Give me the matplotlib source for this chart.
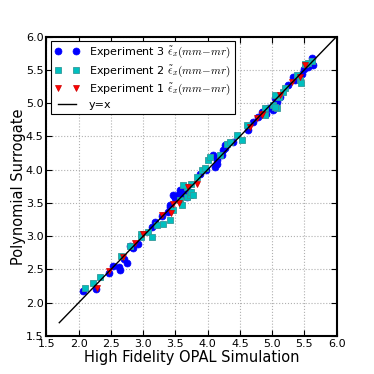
import matplotlib
matplotlib.use("Agg")
import matplotlib.pyplot as plt

# ── datos ─────────────────────────────────────────────────────────────────────
exp3_x = [2.07, 2.27, 2.47, 2.53, 2.64, 2.62, 2.75, 2.70, 2.85, 2.80, 2.92, 3.13, 3.18, 3.30,
          3.39, 3.42, 3.47, 3.50, 3.55, 3.57, 3.62, 3.65, 3.72, 3.42, 3.49, 3.57, 3.68, 3.62,
          3.88, 3.97, 4.11, 4.15, 4.14, 4.22, 4.27, 4.09, 4.14, 4.24, 4.27, 4.40, 4.63, 4.71,
          4.78, 4.86, 4.94, 5.02, 5.05, 4.84, 4.91, 5.07, 5.12, 5.25, 5.33, 5.35, 5.46, 5.49,
          5.56, 5.62, 5.64, 5.62]
exp3_y = [2.17, 2.20, 2.45, 2.55, 2.49, 2.53, 2.60, 2.66, 2.82, 2.85, 2.89, 3.14, 3.22, 3.30,
          3.37, 3.47, 3.62, 3.57, 3.64, 3.62, 3.69, 3.74, 3.66, 3.44, 3.59, 3.69, 3.59, 3.64,
          3.94, 3.99, 4.04, 4.09, 4.17, 4.22, 4.32, 4.22, 4.14, 4.29, 4.37, 4.42, 4.59, 4.72,
          4.79, 4.86, 4.92, 4.89, 5.07, 4.87, 4.84, 5.02, 5.09, 5.27, 5.39, 5.35, 5.44, 5.52,
          5.54, 5.59, 5.57, 5.68]

exp2_x = [2.10, 2.22, 2.33, 2.65, 2.80, 2.96, 2.96, 3.08, 3.13, 3.21, 3.42, 3.31, 3.47, 3.57,
          3.60, 3.68, 3.73, 3.68, 3.75, 3.62, 3.75, 3.78, 3.83, 3.91, 3.96, 4.01, 4.04, 4.30,
          4.35, 4.45, 4.19, 4.53, 4.61, 4.89, 5.02, 5.07, 5.10, 4.89, 5.05, 5.05, 5.20, 5.17,
          5.38, 5.43, 5.51, 5.62, 5.45, 5.55]
exp2_y = [2.22, 2.29, 2.39, 2.70, 2.85, 3.04, 2.99, 3.07, 2.99, 3.17, 3.25, 3.19, 3.39, 3.54,
          3.47, 3.59, 3.62, 3.74, 3.79, 3.77, 3.67, 3.62, 3.89, 3.99, 4.02, 4.14, 4.19, 4.39,
          4.42, 4.52, 4.22, 4.44, 4.67, 4.82, 4.97, 4.92, 5.09, 4.92, 5.12, 4.94, 5.22, 5.17,
          5.42, 5.34, 5.59, 5.64, 5.30, 5.60]

exp1_x = [2.28, 2.47, 2.69, 2.87, 3.00, 3.29, 3.44, 3.47, 3.70, 3.83, 3.55, 4.66, 4.76, 4.84,
          4.84, 5.12, 5.31, 5.43, 5.51]
exp1_y = [2.22, 2.47, 2.68, 2.90, 3.04, 3.32, 3.35, 3.49, 3.74, 3.79, 3.50, 4.64, 4.77, 4.84,
          4.82, 5.12, 5.32, 5.39, 5.57]

line_ends = [1.7, 6.0]
ticks = [1.5, 2.0, 2.5, 3.0, 3.5, 4.0, 4.5, 5.0, 5.5, 6.0]

plt.rcParams['mathtext.fontset'] = 'cm'

fig = plt.figure(figsize=(3.74, 3.74), dpi=100)
ax = fig.add_axes([0.124, 0.1016, 0.776, 0.8006])

eps = r'$\tilde{\epsilon}_x(mm\!-\!mr)$'
ax.plot(exp3_x, exp3_y, 'o', color='b', ms=5, mec='b', mew=0.5,
        label='Experiment 3 ' + eps)
ax.plot(exp2_x, exp2_y, 's', color='c', ms=4.5, mec='#339999', mew=0.6,
        label='Experiment 2 ' + eps)
ax.plot(exp1_x, exp1_y, 'v', color='r', ms=5, mec='#cc0000', mew=0.5,
        label='Experiment 1 ' + eps)
ax.plot(line_ends, line_ends, '-', color='k', lw=1, label='y=x')

ax.set_xlim(1.5, 6.0)
ax.set_ylim(1.5, 6.0)
ax.set_xticks(ticks)
ax.set_yticks(ticks)
ax.tick_params(direction='in', top=True, right=True, labelsize=8, length=4, pad=2)
ax.grid(True, color='#b0b0b0', ls=':', lw=0.8)
for s in ax.spines.values():
    s.set_linewidth(1.5)

ax.set_xlabel('High Fidelity OPAL Simulation', fontsize=10.5, labelpad=1)
ax.set_ylabel('Polynomial Surrogate', fontsize=10.5, labelpad=0)

leg = ax.legend(loc='upper left', numpoints=2, fontsize=8, fancybox=False,
                framealpha=1, edgecolor='k', handlelength=2.2, borderpad=0.35,
                labelspacing=0.28, handletextpad=0.9, borderaxespad=0.4)
leg.get_frame().set_linewidth(0.8)

fig.savefig('out.png', dpi=100)
plt.close()
